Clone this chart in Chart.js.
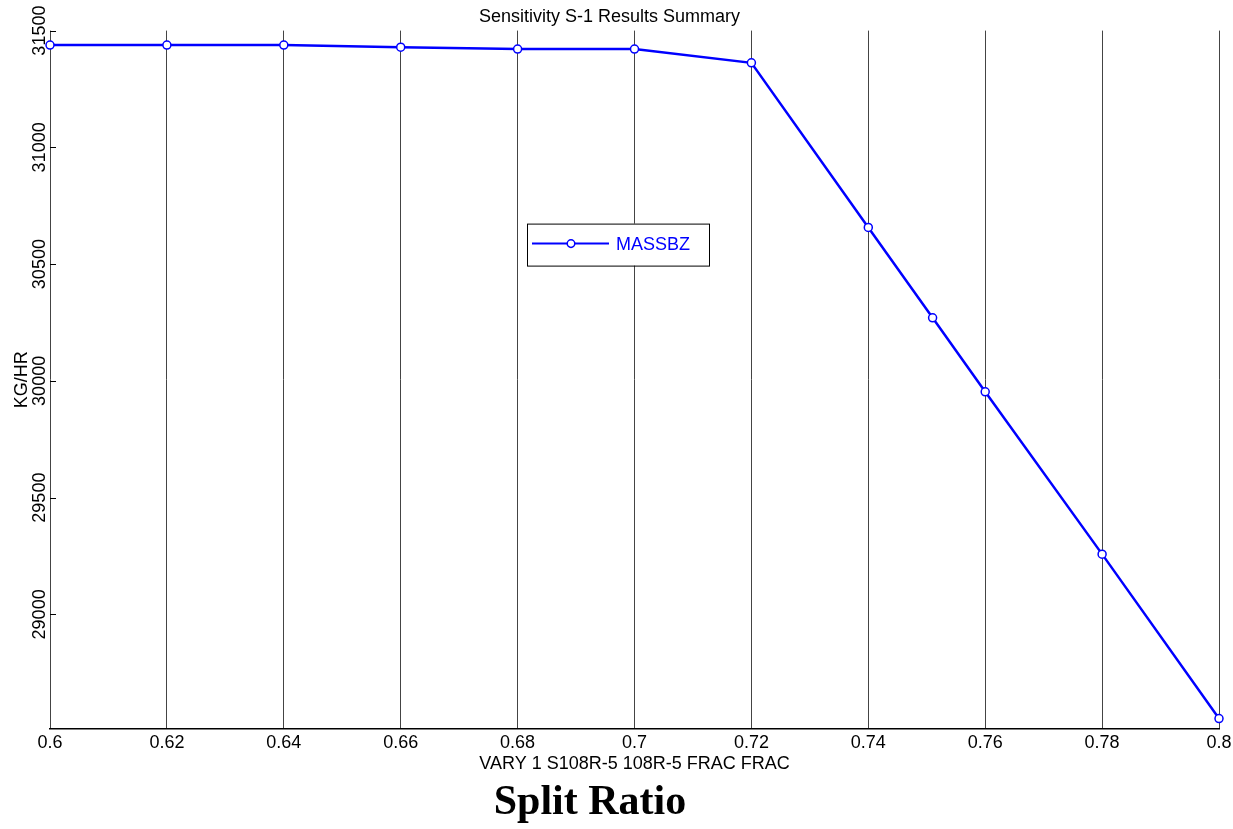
<!DOCTYPE html>
<html>
<head>
<meta charset="utf-8">
<script src="https://cdn.jsdelivr.net/npm/chart.js@4.4.1/dist/chart.umd.min.js"></script>
<style>
  body { margin: 0; background: #fff; }
  #wrap { position: relative; width: 1233px; height: 829px; }
  #sub {
    position: absolute; left: 440px; width: 300px; top: 779px;
    text-align: center; font: bold 42px/42px "Liberation Serif", "Times New Roman", serif; color: #000;
  }
</style>
</head>
<body>
<div id="wrap">
  <canvas id="myChart" width="1233" height="829"></canvas>
  <div id="sub">Split Ratio</div>
</div>
<script>
// values
const fracValues = [0.6, 0.62, 0.64, 0.66, 0.68, 0.7, 0.72, 0.74, 0.751, 0.76, 0.78, 0.8];
const massbzValues = [31438, 31438, 31438, 31429, 31421, 31421, 31362, 30657, 30270, 29953, 29258, 28554];
const xTicks = [0.6, 0.62, 0.64, 0.66, 0.68, 0.7, 0.72, 0.74, 0.76, 0.78, 0.8];
const yTicks = [29000, 29500, 30000, 30500, 31000, 31500];

Chart.defaults.font.family = '"Liberation Sans", Arial, sans-serif';
Chart.defaults.font.size = 18;
Chart.defaults.color = '#000';

// little inward tick marks on the y axis
const yTickMarks = {
  id: 'yTickMarks',
  afterDraw(chart) {
    const ctx = chart.ctx, y = chart.scales.y, left = chart.chartArea.left;
    ctx.save();
    ctx.strokeStyle = '#000';
    ctx.lineWidth = 1;
    y.ticks.forEach((t, i) => {
      const py = Math.round(y.getPixelForTick(i)) + 0.5;
      ctx.beginPath();
      ctx.moveTo(left, py);
      ctx.lineTo(left + 6, py);
      ctx.stroke();
    });
    ctx.restore();
  }
};

// legend box floating inside the plot
const boxLegend = {
  id: 'boxLegend',
  afterDraw(chart) {
    const ctx = chart.ctx, a = chart.chartArea;
    const ds = chart.data.datasets[0];
    const bx = a.left + 477, by = a.top + 193, bw = 182, bh = 42;
    ctx.save();
    ctx.fillStyle = '#fff';
    ctx.fillRect(bx, by, bw, bh);
    ctx.strokeStyle = '#000';
    ctx.lineWidth = 1;
    ctx.strokeRect(bx + 0.5, by + 0.5, bw, bh);
    const ly = by + 20;
    ctx.strokeStyle = ds.borderColor;
    ctx.lineWidth = 2;
    ctx.beginPath();
    ctx.moveTo(bx + 5, ly);
    ctx.lineTo(bx + 82, ly);
    ctx.stroke();
    ctx.beginPath();
    ctx.arc(bx + 44, ly, 3.8, 0, Math.PI * 2);
    ctx.fillStyle = '#fff';
    ctx.fill();
    ctx.lineWidth = 1.5;
    ctx.stroke();
    ctx.fillStyle = ds.borderColor;
    ctx.font = '18px "Liberation Sans", Arial, sans-serif';
    ctx.textBaseline = 'middle';
    ctx.fillText(ds.label, bx + 89, ly + 1);
    ctx.restore();
  }
};

const ctx = document.getElementById('myChart');

new Chart(ctx, {
  type: 'line',
  data: {
    datasets: [{
      label: 'MASSBZ',
      data: fracValues.map((x, i) => ({x: x, y: massbzValues[i]})),
      borderColor: '#0000ff',
      borderWidth: 2.5,
      pointRadius: 4,
      pointBorderWidth: 1.5,
      pointBackgroundColor: '#fff',
      pointBorderColor: '#0000ff',
      tension: 0,
      clip: false
    }]
  },
  options: {
    responsive: false,
    animation: false,
    layout: { padding: { top: 0, left: 0, right: 14, bottom: 51 } },
    plugins: {
      legend: { display: false },
      tooltip: { enabled: false },
      title: {
        display: true,
        text: 'Sensitivity S-1 Results Summary',
        font: { size: 18, weight: 'normal' },
        padding: { top: 6, bottom: 3 }
      }
    },
    scales: {
      x: {
        type: 'linear',
        min: 0.6,
        max: 0.8,
        afterBuildTicks: s => { s.ticks = xTicks.map(v => ({value: v})); },
        afterFit: s => { s.paddingLeft = 0; s.paddingRight = 0; },
        ticks: {
          autoSkip: false,
          maxRotation: 0,
          padding: 3,
          callback: v => String(+v.toFixed(3))
        },
        grid: { color: '#444', lineWidth: 1, drawTicks: false },
        border: { display: true, color: '#000', width: 1.5 },
        title: {
          display: true,
          text: 'VARY 1 S108R-5 108R-5 FRAC FRAC',
          padding: { top: -3, bottom: 3 }
        }
      },
      y: {
        min: 28510,
        max: 31500,
        afterBuildTicks: s => { s.ticks = yTicks.map(v => ({value: v})); },
        afterFit: s => { s.width = 50; },
        ticks: {
          autoSkip: false,
          minRotation: 90,
          maxRotation: 90,
          crossAlign: 'center',
          padding: -15,
          callback: v => String(v)
        },
        grid: { display: false, drawTicks: false },
        border: { display: false },
        title: {
          display: true,
          text: 'KG/HR',
          padding: { top: 11, bottom: 0 }
        }
      }
    }
  },
  plugins: [yTickMarks, boxLegend]
});
</script>
</body>
</html>
